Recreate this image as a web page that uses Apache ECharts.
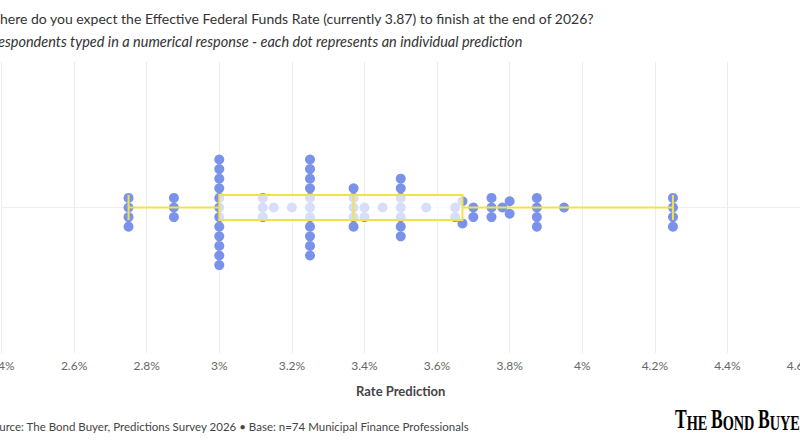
<!DOCTYPE html>
<html>
<head>
<meta charset="utf-8">
<script src="https://cdn.jsdelivr.net/npm/echarts@6/dist/echarts.min.js"></script>
<style>
  html, body { margin: 0; padding: 0; background: #ffffff; }
  #chart { width: 800px; height: 445px; }
</style>
</head>
<body>
<div id="chart"></div>
<script>
// ---- Data ----
const rateValues = [2.75, 2.875, 3.0, 3.12, 3.15, 3.2, 3.25, 3.37, 3.4, 3.45, 3.5, 3.57, 3.65, 3.67, 3.7, 3.75, 3.78, 3.8, 3.875, 3.95, 4.25];
const respondentCounts = [4, 3, 12, 3, 1, 1, 11, 5, 2, 1, 7, 1, 2, 2, 2, 3, 1, 2, 4, 1, 4];
const tickValues = [2.4, 2.6, 2.8, 3.0, 3.2, 3.4, 3.6, 3.8, 4.0, 4.2, 4.4, 4.6];

const titleText = 'Where do you expect the Effective Federal Funds Rate (currently 3.87) to finish at the end of 2026?';
const subtitleText = 'Respondents typed in a numerical response - each dot represents an individual prediction';
const sourceText = 'Source: The Bond Buyer, Predictions Survey 2026 \u2022 Base: n=74 Municipal Finance Professionals';
const axisTitle = 'Rate Prediction';

// ---- Styles ----
const DOT_COLOR = '#7a92e9';
const BOX_COLOR = '#f2e24a';
const FONT = 'Lato, "Noto Sans", sans-serif';
const SERIF = '"Liberation Serif", "DejaVu Serif", serif';
const DOT_SIZE = 10;
const DOT_SPACING = 9.6;
const BOX_HEIGHT = 25;

// expand individual predictions
const predictions = [];
rateValues.forEach((v, i) => { for (let k = 0; k < respondentCounts[i]; k++) predictions.push(v); });
predictions.sort((a, b) => a - b);

function quantile(sorted, p) {
  const h = (sorted.length - 1) * p;
  const lo = Math.floor(h);
  const hi = Math.min(lo + 1, sorted.length - 1);
  return sorted[lo] + (sorted[hi] - sorted[lo]) * (h - lo);
}
const boxStats = [
  predictions[0],
  quantile(predictions, 0.25),
  quantile(predictions, 0.5),
  quantile(predictions, 0.75),
  predictions[predictions.length - 1]
];

const chart = echarts.init(document.getElementById('chart'), null, { renderer: 'svg' });

function renderBox(params, api) {
  const pMin = api.coord([api.value(0), 0]);
  const pQ1 = api.coord([api.value(1), 0]);
  const pMed = api.coord([api.value(2), 0]);
  const pQ3 = api.coord([api.value(3), 0]);
  const pMax = api.coord([api.value(4), 0]);
  const cy = pMin[1];
  const top = cy - BOX_HEIGHT / 2, bot = cy + BOX_HEIGHT / 2;
  const ls = { stroke: BOX_COLOR, lineWidth: 2, fill: null };
  return {
    type: 'group',
    children: [
      { type: 'line', shape: { x1: pMin[0], y1: cy, x2: pQ1[0], y2: cy }, style: ls },
      { type: 'line', shape: { x1: pQ3[0], y1: cy, x2: pMax[0], y2: cy }, style: ls },
      { type: 'line', shape: { x1: pMin[0], y1: top, x2: pMin[0], y2: bot }, style: ls },
      { type: 'line', shape: { x1: pMax[0], y1: top, x2: pMax[0], y2: bot }, style: ls },
      { type: 'rect', shape: { x: pQ1[0], y: top, width: pQ3[0] - pQ1[0], height: BOX_HEIGHT },
        style: { fill: 'rgba(255,255,255,0.7)', stroke: BOX_COLOR, lineWidth: 2 } },
      { type: 'line', shape: { x1: pMed[0], y1: top, x2: pMed[0], y2: bot }, style: ls }
    ]
  };
}

const option = {
  animation: false,
  backgroundColor: '#ffffff',
  textStyle: { fontFamily: FONT },
  grid: { left: 1.5, right: 0, top: 62, bottom: 92, containLabel: false, outerBoundsMode: 'none' },
  xAxis: {
    type: 'value',
    min: tickValues[0],
    max: tickValues[tickValues.length - 1],
    interval: 0.2,
    name: axisTitle,
    nameLocation: 'middle',
    nameGap: 31,
    nameTextStyle: { fontFamily: FONT, fontSize: 13, fontWeight: 'bold', color: '#444' },
    axisLine: { show: true, lineStyle: { color: '#eeeeee' } },
    axisTick: { show: false },
    axisLabel: {
      show: true, color: '#666', fontSize: 12, fontFamily: FONT, margin: 6,
      showMinLabel: true, showMaxLabel: true, hideOverlap: false,
      formatter: v => parseFloat(v.toFixed(1)) + '%'
    },
    splitLine: { show: true, lineStyle: { color: '#ececec', width: 1 } }
  },
  yAxis: {
    type: 'value', min: -15, max: 15, inverse: true, show: false,
    splitLine: { show: false }
  },
  graphic: [
    { type: 'text', x: -14.5, y: 18, silent: true,
      style: { text: titleText, fill: '#333', font: '14px ' + FONT, textVerticalAlign: 'middle' } },
    { type: 'text', x: -10, y: 41, silent: true,
      style: { text: subtitleText, fill: '#333', font: 'italic 14.5px ' + FONT, textVerticalAlign: 'middle' } },
    { type: 'text', x: -13.5, y: 426, silent: true,
      style: { text: sourceText, fill: '#444', font: '11.5px ' + FONT, textVerticalAlign: 'middle' } },
    { type: 'text', x: 675, y: 433, scaleX: 0.65, silent: true,
      style: {
        text: '{b|T}{s|HE }{b|B}{s|OND }{b|B}{s|UYER}',
        textVerticalAlign: 'bottom',
        rich: {
          b: { fontFamily: SERIF, fontWeight: 'bold', fontSize: 27, color: '#111', verticalAlign: 'bottom' },
          s: { fontFamily: SERIF, fontWeight: 'bold', fontSize: 22, color: '#111', verticalAlign: 'bottom' }
        }
      } }
  ],
  series: [
    { type: 'scatter', name: 'Predictions', data: [], symbol: 'circle', symbolSize: DOT_SIZE,
      itemStyle: { color: DOT_COLOR, opacity: 1 }, silent: true, z: 2 },
    { type: 'custom', name: 'Distribution', renderItem: renderBox, data: [boxStats],
      encode: { x: [0, 1, 2, 3, 4] }, silent: true, clip: false, z: 3 }
  ]
};
chart.setOption(option);

// ---- beeswarm (dodge) layout using the chart's own x scale ----
const pxPerUnitY = Math.abs(chart.convertToPixel({ yAxisIndex: 0 }, 1) - chart.convertToPixel({ yAxisIndex: 0 }, 0));
const placed = [];
const dotData = predictions.map(v => {
  const x = chart.convertToPixel({ xAxisIndex: 0 }, v);
  const near = placed.filter(p => Math.abs(p.x - x) < DOT_SPACING - 1e-6);
  const cands = [0];
  near.forEach(p => {
    const d = Math.sqrt(DOT_SPACING * DOT_SPACING - (p.x - x) * (p.x - x));
    cands.push(p.y + d, p.y - d);
  });
  const valid = cands.filter(c => near.every(p => {
    const dx = p.x - x, dy = p.y - c;
    return dx * dx + dy * dy >= DOT_SPACING * DOT_SPACING - 1e-3;
  }));
  valid.sort((a, b) => {
    const d = Math.abs(a) - Math.abs(b);
    if (Math.abs(d) > 1e-6) return d;
    return b - a;
  });
  const y = valid[0];
  placed.push({ x, y });
  return [v, y / pxPerUnitY];
});
chart.setOption({ series: [{ data: dotData }] });
</script>
</body>
</html>
